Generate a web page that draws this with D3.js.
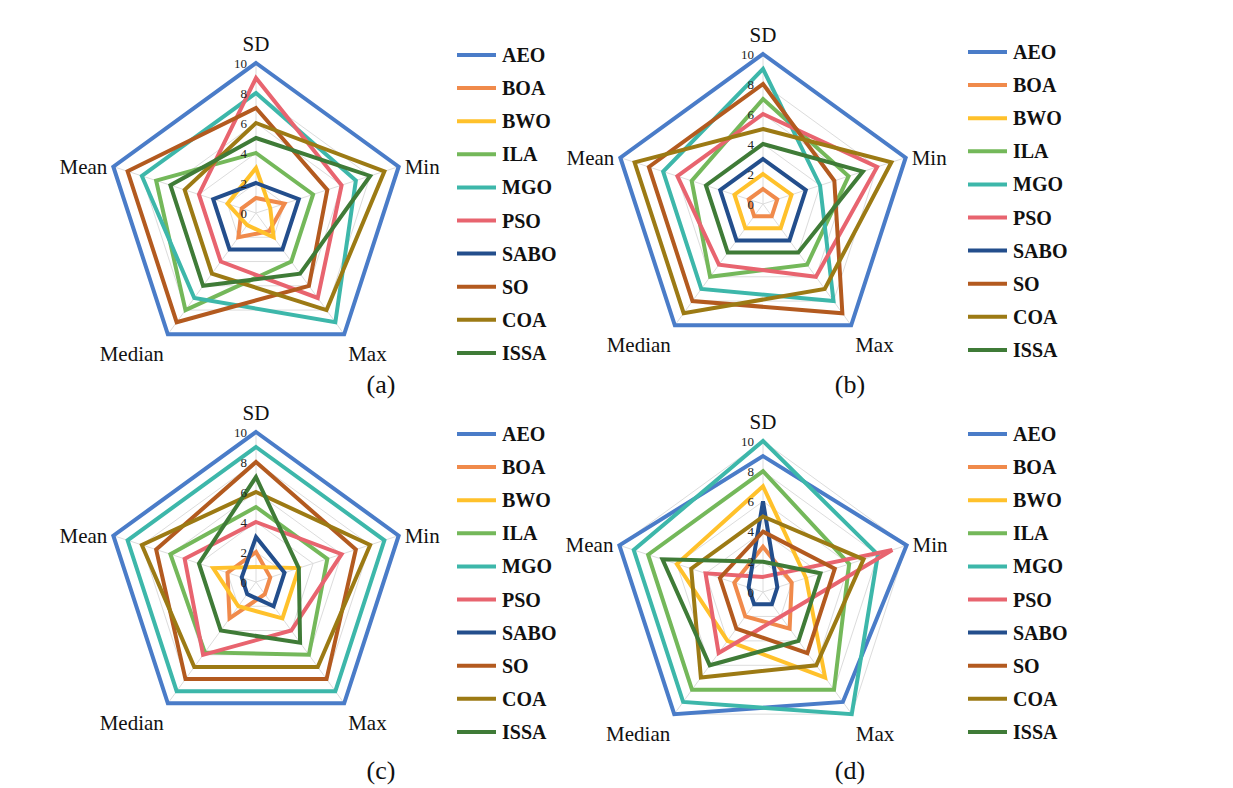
<!DOCTYPE html>
<html>
<head>
<meta charset="utf-8">
<script src="https://cdn.jsdelivr.net/npm/d3@7"></script>
<style>
  html, body { margin: 0; padding: 0; background: #fff; }
  svg { display: block; }
</style>
</head>
<body>
<svg id="chart" width="1233" height="788"></svg>
<script>
// ---- data ----
const axes = ["SD", "Min", "Max", "Median", "Mean"];
const seriesNames = ["AEO", "BOA", "BWO", "ILA", "MGO", "PSO", "SABO", "SO", "COA", "ISSA"];
const seriesColors = ["#4a7cc8", "#f08a4b", "#ffc12b", "#74b85a", "#3db7aa", "#e8646f", "#234e8c", "#b35a1f", "#9c7a14", "#3f7b37"];
const tickValues = [0, 2, 4, 6, 8, 10];
const panelLabels = ["(a)", "(b)", "(c)", "(d)"];

// rows follow seriesNames; columns follow axes [SD, Min, Max, Median, Mean]
const valuesA = [
  [10, 10, 10, 10, 10],
  [1, 2, 1.5, 2, 1],
  [3, 1, 2, 1, 2],
  [4, 4, 4, 8, 7],
  [8, 7, 9, 7, 8],
  [9, 6, 7, 4, 4],
  [2, 3, 3, 3, 3],
  [7, 5, 6, 9, 9],
  [6, 9, 8, 5, 5],
  [5, 8, 5, 6, 6]
];
const valuesB = [
  [10, 10, 10, 10, 10],
  [1, 1, 1, 1, 1],
  [2, 2, 2, 2, 2],
  [7, 6, 5, 6, 5],
  [9, 4, 8, 7, 7],
  [6, 8, 6, 5, 6],
  [3, 3, 3, 3, 3],
  [8, 5, 9, 8, 8],
  [5, 9, 7, 9, 9],
  [4, 7, 4, 4, 4]
];
const valuesC = [
  [10, 10, 10, 10, 10],
  [2, 1, 1, 3, 2],
  [1, 3, 3, 2, 3],
  [5, 5, 6, 5.8, 6],
  [9, 9, 9, 9, 9],
  [4, 6, 4, 6, 5],
  [3, 2, 2, 1, 1],
  [8, 7, 8, 8, 7],
  [6, 8, 7, 7, 8],
  [7, 3, 5, 4, 4]
];
const valuesD = [
  [9, 10, 9, 10, 10],
  [3, 2, 3, 2, 2],
  [7, 3, 7, 4, 6],
  [8, 6, 8, 8, 8],
  [10, 8, 10, 9, 9],
  [1, 9, 2, 5, 4],
  [6, 1, 1, 1, 1],
  [4, 5, 5, 3, 3],
  [5, 7, 6, 7, 5],
  [2, 4, 4, 6, 7]
];

// ---- layout ----
const panels = [
  { values: valuesA, cx: 256, cy: 213, r: 150, lx: 457, ly: 55,  tx: 381, ty: 393 },
  { values: valuesB, cx: 763, cy: 204, r: 150, lx: 968, ly: 52,  tx: 850, ty: 393 },
  { values: valuesC, cx: 256, cy: 582, r: 150, lx: 457, ly: 434, tx: 381, ty: 779 },
  { values: valuesD, cx: 763, cy: 592, r: 151, lx: 968, ly: 434, tx: 850, ty: 779 }
];

const serif = "'Liberation Serif', 'Times New Roman', 'DejaVu Serif', serif";
const svg = d3.select("#chart");
const angle = d3.scaleLinear().domain([0, axes.length]).range([0, 2 * Math.PI]);

panels.forEach((p, pi) => {
  const g = svg.append("g").attr("transform", `translate(${p.cx},${p.cy})`);
  const rScale = d3.scaleLinear().domain([0, 10]).range([0, p.r]);
  const radial = d3.lineRadial()
    .angle((d, i) => angle(i))
    .radius(d => rScale(d))
    .curve(d3.curveLinearClosed);

  // grid pentagons
  tickValues.filter(t => t > 0).forEach(t => {
    g.append("path")
      .attr("d", radial(axes.map(() => t)))
      .attr("fill", "none")
      .attr("stroke", "#dcdcdc")
      .attr("stroke-width", 1);
  });
  // spokes
  axes.forEach((a, i) => {
    const ang = angle(i);
    g.append("line")
      .attr("x1", 0).attr("y1", 0)
      .attr("x2", rScale(10) * Math.sin(ang))
      .attr("y2", -rScale(10) * Math.cos(ang))
      .attr("stroke", "#dcdcdc")
      .attr("stroke-width", 1);
  });

  // series
  p.values.forEach((row, si) => {
    g.append("path")
      .attr("d", radial(row))
      .attr("fill", "none")
      .attr("stroke", seriesColors[si])
      .attr("stroke-width", 4)
      .attr("stroke-linejoin", "miter");
  });

  // tick labels
  tickValues.forEach(t => {
    g.append("text")
      .attr("x", -9)
      .attr("y", -rScale(t) + 4.5)
      .attr("text-anchor", "end")
      .attr("font-family", serif)
      .attr("font-size", 13)
      .attr("fill", "#222")
      .text(t);
  });

  // axis labels
  axes.forEach((a, i) => {
    const ang = angle(i);
    const vx = rScale(10) * Math.sin(ang);
    const vy = -rScale(10) * Math.cos(ang);
    let x = vx, y = vy, anchor = "middle";
    if (a === "SD") { y = vy - 12; anchor = "middle"; }
    else if (a === "Min") { x = vx + 6; y = vy + 7; anchor = "start"; }
    else if (a === "Max") { x = vx + 4; y = vy + 27; anchor = "start"; }
    else if (a === "Median") { x = vx - 4; y = vy + 27; anchor = "end"; }
    else if (a === "Mean") { x = vx - 6; y = vy + 7; anchor = "end"; }
    g.append("text")
      .attr("x", x).attr("y", y)
      .attr("text-anchor", anchor)
      .attr("font-family", serif)
      .attr("font-size", 21)
      .attr("fill", "#111")
      .text(a);
  });

  // legend
  const lg = svg.append("g").attr("transform", `translate(${p.lx},${p.ly})`);
  const rowStep = 33.1;
  seriesNames.forEach((name, si) => {
    const y = si * rowStep;
    lg.append("line")
      .attr("x1", 0).attr("x2", 39)
      .attr("y1", y).attr("y2", y)
      .attr("stroke", seriesColors[si])
      .attr("stroke-width", 4);
    lg.append("text")
      .attr("x", 45).attr("y", y + 7)
      .attr("font-family", serif)
      .attr("font-weight", "bold")
      .attr("font-size", 20)
      .attr("fill", "#111")
      .text(name);
  });

  // panel label
  svg.append("text")
    .attr("x", p.tx).attr("y", p.ty)
    .attr("text-anchor", "middle")
    .attr("font-family", serif)
    .attr("font-size", 26)
    .attr("fill", "#111")
    .text(panelLabels[pi]);
});
</script>
</body>
</html>
